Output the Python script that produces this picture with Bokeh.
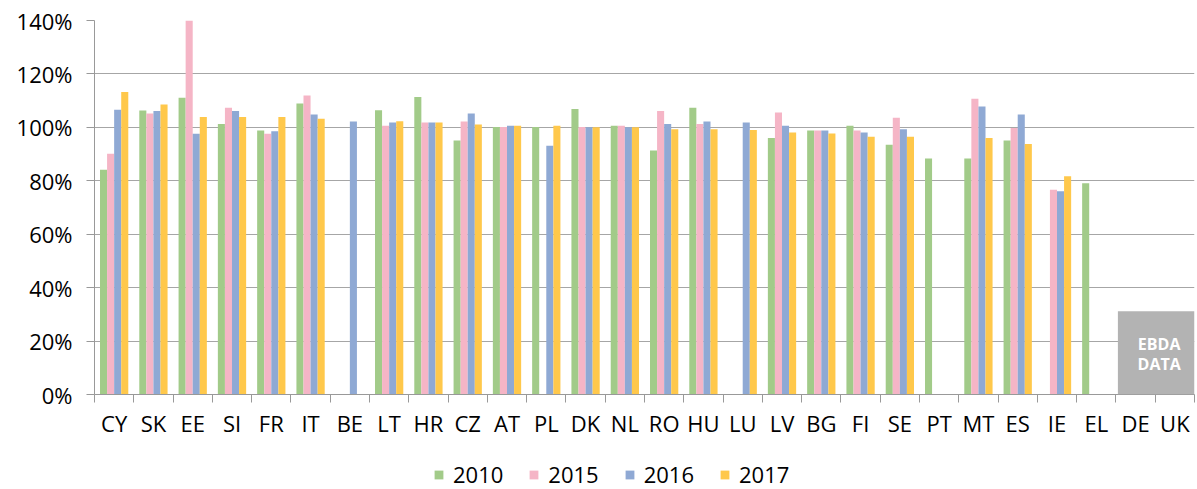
import numpy as np
from bokeh.plotting import figure
from bokeh.layouts import column
from bokeh.models import (ColumnDataSource, FixedTicker, PrintfTickFormatter,
                          CustomJSTickFormatter, BoxAnnotation, Label, Range1d, Legend, LegendItem)
from bokeh.transform import dodge
from bokeh.embed import file_html
from bokeh.resources import INLINE

nan = float("nan")

countries = ["CY", "SK", "EE", "SI", "FR", "IT", "BE", "LT", "HR", "CZ", "AT", "PL", "DK", "NL",
             "RO", "HU", "LU", "LV", "BG", "FI", "SE", "PT", "MT", "ES", "IE", "EL", "DE", "UK"]

v2010 = [84.1, 106.3, 111.1, 101.3, 98.8, 108.9, nan, 106.4, 111.4, 95.1, 100.1, 100.1, 106.9, 100.6,
         91.3, 107.3, nan, 96.0, 98.8, 100.6, 93.5, 88.3, 88.3, 95.1, nan, 79.1, nan, nan]
v2015 = [90.1, 105.2, 160.0, 107.3, 97.6, 111.9, nan, 100.6, 101.8, 102.2, 100.1, nan, 100.1, 100.6,
         106.1, 101.3, nan, 105.6, 98.8, 98.8, 103.6, nan, 110.7, 99.8, 76.6, nan, nan, nan]
v2016 = [106.6, 106.1, 97.6, 106.1, 98.5, 104.8, 102.2, 101.8, 101.8, 105.2, 100.6, 93.1, 100.0, 100.0,
         101.3, 102.2, 101.8, 100.6, 98.8, 98.1, 99.3, nan, 107.8, 104.8, 76.1, nan, nan, nan]
v2017 = [113.2, 108.6, 103.9, 103.9, 103.9, 103.2, nan, 102.3, 101.8, 101.1, 100.6, 100.6, 100.0, 100.0,
         99.3, 99.3, 99.0, 98.1, 97.7, 96.5, 96.5, nan, 96.0, 93.8, 81.7, nan, nan, nan]

years = ["2010", "2015", "2016", "2017"]
colors = ["#A2CB89", "#F5B5C6", "#8FA9D4", "#FFC84B"]
y_ticks = [0, 20, 40, 60, 80, 100, 120, 140]

n = len(countries)
src = ColumnDataSource(dict(x=np.arange(n) + 0.5, y2010=v2010, y2015=v2015, y2016=v2016, y2017=v2017))

FONT = "Open Sans"

p = figure(width=1197, height=445, output_backend="svg", toolbar_location=None,
           x_range=Range1d(0, n), y_range=Range1d(0, 140),
           min_border_left=94, min_border_right=3, min_border_top=20, min_border_bottom=51)
p.outline_line_color = None
p.background_fill_color = "white"
p.border_fill_color = "white"

offsets = [-0.27, -0.09, 0.09, 0.27]
fields = ["y2010", "y2015", "y2016", "y2017"]
for f, off, c, yr in zip(fields, offsets, colors, years):
    p.vbar(x=dodge("x", off), top=f, width=0.18, source=src, fill_color=c, line_color=None)

# y axis
p.yaxis.ticker = FixedTicker(ticks=y_ticks)
p.yaxis.formatter = PrintfTickFormatter(format="%d%%")
p.yaxis.major_label_text_font = FONT
p.yaxis.major_label_text_font_size = "22px"
p.yaxis.major_label_text_color = "#000000"
p.yaxis.major_tick_out = 8
p.yaxis.major_tick_in = 0
p.yaxis.major_label_standoff = 14
p.yaxis.minor_tick_line_color = None
p.yaxis.axis_line_color = "#999999"
p.yaxis.major_tick_line_color = "#999999"

# x axis: labels at centres, ticks at boundaries
p.xaxis.ticker = FixedTicker(ticks=list(np.arange(n) + 0.5), minor_ticks=list(range(n + 1)))
p.xaxis.formatter = CustomJSTickFormatter(args=dict(names=countries), code="""
const i = Math.floor(tick);
return (i >= 0 && i < names.length) ? names[i] : '';
""")
p.xaxis.major_tick_line_color = None
p.xaxis.major_tick_out = 0
p.xaxis.major_tick_in = 0
p.xaxis.minor_tick_line_color = "#999999"
p.xaxis.minor_tick_out = 8
p.xaxis.minor_tick_in = 0
p.xaxis.axis_line_color = "#999999"
p.xaxis.major_label_text_font = FONT
p.xaxis.major_label_text_font_size = "22px"
p.xaxis.major_label_text_color = "#000000"
p.xaxis.major_label_standoff = 5

p.xgrid.grid_line_color = None
p.ygrid.ticker = FixedTicker(ticks=y_ticks)
p.ygrid.grid_line_color = "#A6A6A6"
p.ygrid.grid_line_width = 1.2

# EBDA DATA box
box = BoxAnnotation(left=26.05, bottom=0, top=31.2, fill_color="#B3B3B3", fill_alpha=1.0,
                    line_color=None)
p.add_layout(box)
for txt, yv in [("EBDA", 19.0), ("DATA", 11.6)]:
    p.add_layout(Label(x=27.1, y=yv, text=txt, text_align="center", text_baseline="middle",
                       text_font=FONT, text_font_size="16px", text_font_style="bold",
                       text_color="white"))

# legend in a strip below the chart (same series, drawn far out of view; only the legend shows)
pl = figure(width=1197, height=44, output_backend="svg", toolbar_location=None,
            x_range=Range1d(-1000, -999), y_range=Range1d(1000, 1001), min_border=0)
pl.axis.visible = False
pl.grid.visible = False
pl.outline_line_color = None
items = []
for f, off, c, yr in zip(fields, offsets, colors, years):
    r = pl.vbar(x=dodge("x", off), top=f, width=0.18, source=src, fill_color=c, line_color=None)
    items.append(LegendItem(label=yr, renderers=[r]))
lg = Legend(items=items, orientation="horizontal", location=(339, 0),
            glyph_width=11, glyph_height=11, label_standoff=9, spacing=25,
            padding=0, margin=0, border_line_color=None, background_fill_alpha=0,
            label_text_font=FONT, label_text_font_size="22px", label_text_color="#000000")
pl.add_layout(lg, "center")

layout = column(p, pl, spacing=0)
open("out.html", "w").write(file_html(layout, INLINE))
